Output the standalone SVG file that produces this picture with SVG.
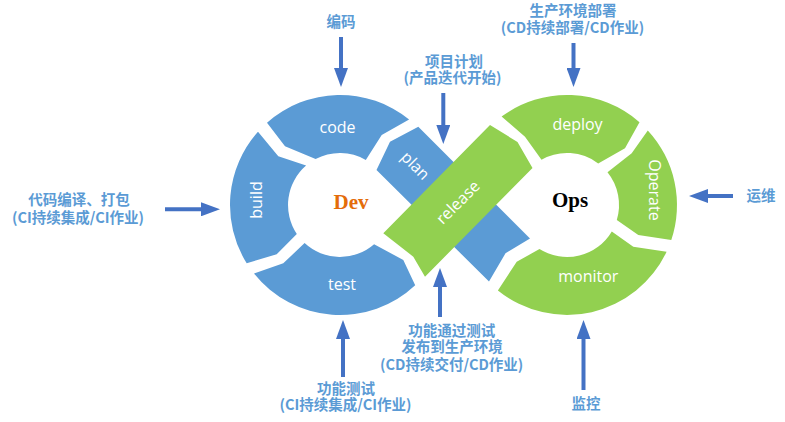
<svg xmlns="http://www.w3.org/2000/svg" width="785" height="422" viewBox="0 0 785 422">
<style>
.blue{fill:#5B9BD5}
.green{fill:#92D050}
.seg{font-family:"Open Sans","Noto Sans",sans-serif;font-size:16px;fill:#FFFFFF;text-anchor:middle}
.lbl{font-family:"Noto Sans CJK SC","Noto Sans",sans-serif;font-size:14.5px;font-weight:bold;fill:#5B9BD5;text-anchor:middle}
.arr{stroke:#4472C4;stroke-width:4;fill:none;marker-end:url(#ah)}
.hub{font-family:"Liberation Serif","Times New Roman",serif;font-weight:bold;font-size:21px;text-anchor:middle}
</style>
<defs>
<marker id="ah" markerWidth="19" markerHeight="14" refX="4" refY="7" orient="auto" markerUnits="userSpaceOnUse">
<path d="M0,0 L19,7 L0,14 Z" fill="#4472C4"/>
</marker>
</defs>
<rect width="785" height="422" fill="#FFFFFF"/>

<g id="plan">
<path class="blue" d="M376.5,170 L390,141.7 L418.3,126.7 L530,238.4 L505.5,253.3 L489,281.5 Z"/>
<text class="seg" transform="translate(415,166) rotate(45)" dy="5">plan</text>
</g>

<g id="code">
<path class="blue" d="M267,122.7 A110,110 0 0 1 409.1,119.4 L381.7,135 L365.8,159.9 A52,52 0 0 0 315.6,159.1 L285,146.3 Z"/>
<text class="seg" x="337.5" y="133">code</text>
</g>

<g id="build">
<path class="blue" d="M258,131.7 L278.3,156.3 L306.1,165.6 A52,52 0 0 0 296.8,233.9 L276.7,254.3 L246.7,263.3 A110,110 0 0 1 258,131.7 Z"/>
<text class="seg" transform="translate(257,200) rotate(-90)" dy="5">build</text>
</g>

<g id="test">
<path class="blue" d="M304.6,243.1 A52,52 0 0 0 374.1,244.2 L403.3,260 L415.2,285.2 A110,110 0 0 1 254,273.6 L283.3,263.3 Z"/>
<text class="seg" x="342" y="290">test</text>
</g>

<g id="deploy">
<path class="green" d="M501.6,116.6 A110,110 0 0 1 639.5,122.2 L625,148.3 L598.2,163.4 A52,52 0 0 0 541.5,159.7 L525,136.7 Z"/>
<text class="seg" x="577.5" y="129.5">deploy</text>
</g>

<g id="operate">
<path class="green" d="M647.8,130.4 A110,110 0 0 1 671.3,239.9 L638.3,235 L616.8,220 A52,52 0 0 0 607.5,172.3 L631.7,153.3 Z"/>
<text class="seg" transform="translate(654,190) rotate(90)" dy="5">Operate</text>
</g>

<g id="monitor">
<path class="green" d="M611.8,231.4 L633.3,246.7 L666.6,251.7 A110,110 0 0 1 497.9,290.5 L516.7,261.7 L539.5,249.1 A52,52 0 0 0 611.8,231.4 Z"/>
<text class="seg" x="588.3" y="281.5">monitor</text>
</g>

<g id="release">
<path class="green" d="M383.3,233.3 L490,125 L517.5,142 L532.5,168 L425,276.7 L413.3,256.7 Z"/>
<text class="seg" transform="translate(458.3,202.7) rotate(-45)" dy="5">release</text>
</g>

<g id="dev">
<text class="hub" x="351" y="209" fill="#E46C0A">Dev</text>
</g>
<g id="ops">
<text class="hub" x="570" y="206.5" fill="#000000">Ops</text>
</g>

<g id="connectors">
<line class="arr" x1="341" y1="37" x2="341" y2="72"/>
<line class="arr" x1="573.5" y1="43" x2="573.5" y2="72"/>
<line class="arr" x1="443.3" y1="93" x2="443.3" y2="129"/>
<line class="arr" x1="165" y1="209.3" x2="205" y2="209.3"/>
<line class="arr" x1="733" y1="196" x2="704" y2="196"/>
<line class="arr" x1="343" y1="377" x2="343" y2="335"/>
<line class="arr" x1="440" y1="317" x2="440" y2="283"/>
<line class="arr" x1="583.5" y1="390" x2="583.5" y2="335"/>
</g>

<g id="label-code">
<text class="lbl" x="341" y="27">编码</text>
</g>
<g id="label-deploy">
<text class="lbl" y="16"><tspan x="573">生产环境部署</tspan><tspan x="572.5" dy="17">(CD持续部署/CD作业)</tspan></text>
</g>
<g id="label-plan">
<text class="lbl" y="67"><tspan x="454">项目计划</tspan><tspan x="452.5" dy="16">(产品迭代开始)</tspan></text>
</g>
<g id="label-build">
<text class="lbl" y="205"><tspan x="79">代码编译、打包</tspan><tspan x="78" dy="17.5">(CI持续集成/CI作业)</tspan></text>
</g>
<g id="label-operate">
<text class="lbl" x="761" y="201">运维</text>
</g>
<g id="label-test">
<text class="lbl" y="394"><tspan x="346">功能测试</tspan><tspan x="345.5" dy="16">(CI持续集成/CI作业)</tspan></text>
</g>
<g id="label-release">
<text class="lbl" y="336"><tspan x="451.7">功能通过测试</tspan><tspan x="452" dy="16">发布到生产环境</tspan><tspan x="451.7" dy="17.5">(CD持续交付/CD作业)</tspan></text>
</g>
<g id="label-monitor">
<text class="lbl" x="586" y="409">监控</text>
</g>
</svg>
